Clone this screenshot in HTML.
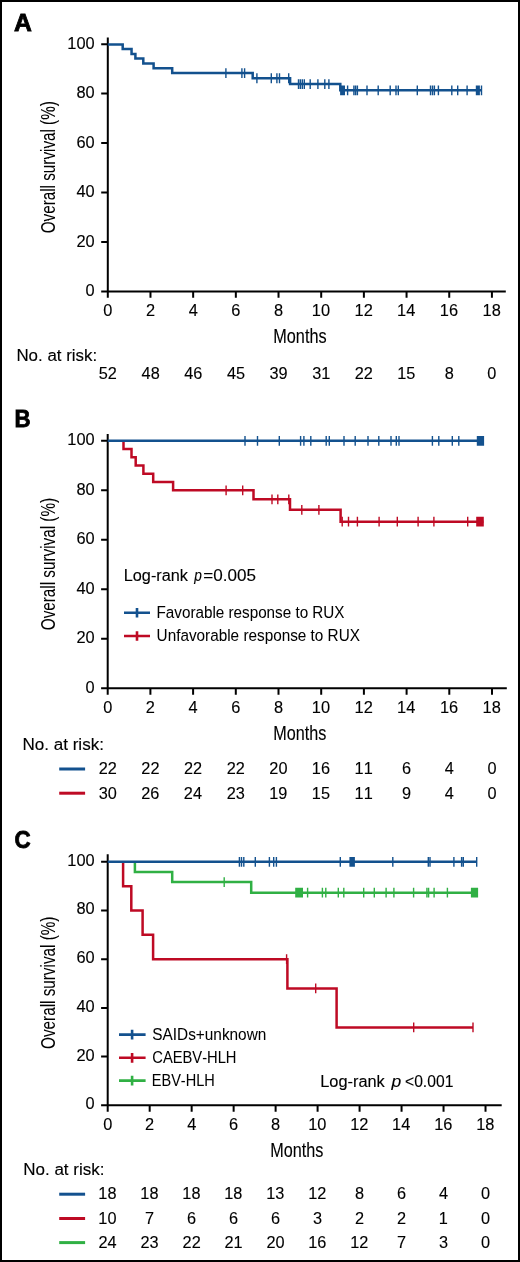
<!DOCTYPE html>
<html><head><meta charset="utf-8"><title>Overall survival</title>
<style>
html,body{margin:0;padding:0;background:#fff;}
body{width:520px;height:1262px;overflow:hidden;}
svg{display:block;will-change:transform;font-family:"Liberation Sans", sans-serif;font-kerning:none;}
text{font-kerning:none;stroke:#000;stroke-width:0.12px;}
</style></head><body>
<svg width="520" height="1262" viewBox="0 0 520 1262">
<rect x="1" y="1" width="518" height="1260" fill="#fff" stroke="#000" stroke-width="2"/>
<path d="M107.80 37.60 V297.80 M101.20 291.40 H505.80 M101.20 291.40 H107.80 M101.20 241.95 H107.80 M101.20 192.50 H107.80 M101.20 143.05 H107.80 M101.20 93.60 H107.80 M101.20 44.15 H107.80 M107.80 291.40 V297.80 M150.48 291.40 V297.80 M193.16 291.40 V297.80 M235.84 291.40 V297.80 M278.52 291.40 V297.80 M321.20 291.40 V297.80 M363.88 291.40 V297.80 M406.56 291.40 V297.80 M449.24 291.40 V297.80 M491.92 291.40 V297.80" fill="none" stroke="#000" stroke-width="2.00"/>
<text x="85.52" y="296.00" font-size="16.40" textLength="9.12" lengthAdjust="spacingAndGlyphs" fill="#000">0</text>
<text x="76.40" y="246.55" font-size="16.40" textLength="18.24" lengthAdjust="spacingAndGlyphs" fill="#000">20</text>
<text x="76.40" y="197.10" font-size="16.40" textLength="18.24" lengthAdjust="spacingAndGlyphs" fill="#000">40</text>
<text x="76.40" y="147.65" font-size="16.40" textLength="18.24" lengthAdjust="spacingAndGlyphs" fill="#000">60</text>
<text x="76.40" y="98.20" font-size="16.40" textLength="18.24" lengthAdjust="spacingAndGlyphs" fill="#000">80</text>
<text x="67.28" y="48.75" font-size="16.40" textLength="27.36" lengthAdjust="spacingAndGlyphs" fill="#000">100</text>
<text x="103.24" y="315.60" font-size="16.40" textLength="9.12" lengthAdjust="spacingAndGlyphs" fill="#000">0</text>
<text x="145.92" y="315.60" font-size="16.40" textLength="9.12" lengthAdjust="spacingAndGlyphs" fill="#000">2</text>
<text x="188.65" y="315.60" font-size="16.40" textLength="9.12" lengthAdjust="spacingAndGlyphs" fill="#000">4</text>
<text x="231.22" y="315.60" font-size="16.40" textLength="9.12" lengthAdjust="spacingAndGlyphs" fill="#000">6</text>
<text x="273.96" y="315.60" font-size="16.40" textLength="9.12" lengthAdjust="spacingAndGlyphs" fill="#000">8</text>
<text x="311.77" y="315.60" font-size="16.40" textLength="18.24" lengthAdjust="spacingAndGlyphs" fill="#000">10</text>
<text x="354.55" y="315.60" font-size="16.40" textLength="18.24" lengthAdjust="spacingAndGlyphs" fill="#000">12</text>
<text x="397.05" y="315.60" font-size="16.40" textLength="18.24" lengthAdjust="spacingAndGlyphs" fill="#000">14</text>
<text x="439.85" y="315.60" font-size="16.40" textLength="18.24" lengthAdjust="spacingAndGlyphs" fill="#000">16</text>
<text x="482.53" y="315.60" font-size="16.40" textLength="18.24" lengthAdjust="spacingAndGlyphs" fill="#000">18</text>
<g transform="rotate(-90)"><text x="-233.22" y="54.50" font-size="20.00" textLength="131.97" lengthAdjust="spacingAndGlyphs" fill="#000" style="stroke-width:0.04px">Overall survival (%)</text></g>
<text x="273.27" y="342.90" font-size="20.00" textLength="53.32" lengthAdjust="spacingAndGlyphs" fill="#000">Months</text>
<text x="14.08" y="30.60" font-size="23.34" font-weight="bold" textLength="17.87" lengthAdjust="spacingAndGlyphs" fill="#000" style="stroke-width:0.80px">A</text>
<path d="M107.80 44.45 H122.70 V49.10 H131.55 V53.90 H135.40 V58.60 H143.30 V63.40 H153.60 V68.20 H172.20 V73.10 H252.70 V78.25 H290.10 V84.10 H340.30 V90.35 H481.90" fill="none" stroke="#13518e" stroke-width="2.50" stroke-linejoin="miter" stroke-linecap="butt"/>
<path d="M225.90 68.20 V78.00M241.90 68.20 V78.00M244.60 68.20 V78.00M256.90 73.35 V83.15M271.30 73.35 V83.15M276.90 73.35 V83.15M279.50 73.35 V83.15M288.70 73.35 V83.15M298.50 79.20 V89.00M300.35 79.20 V89.00M302.30 79.20 V89.00M304.30 79.20 V89.00M310.20 79.20 V89.00M317.90 79.20 V89.00M324.80 79.20 V89.00M328.90 79.20 V89.00M340.80 85.45 V95.25M342.00 85.45 V95.25M343.20 85.45 V95.25M344.30 85.45 V95.25M347.60 85.45 V95.25M353.90 85.45 V95.25M355.60 85.45 V95.25M357.40 85.45 V95.25M367.00 85.45 V95.25M378.20 85.45 V95.25M390.20 85.45 V95.25M396.00 85.45 V95.25M398.30 85.45 V95.25M417.30 85.45 V95.25M430.50 85.45 V95.25M432.50 85.45 V95.25M434.40 85.45 V95.25M438.40 85.45 V95.25M451.80 85.45 V95.25M457.70 85.45 V95.25M467.10 85.45 V95.25M476.50 85.45 V95.25M477.90 85.45 V95.25M479.20 85.45 V95.25M481.50 85.45 V95.25" fill="none" stroke="#13518e" stroke-width="1.40"/>
<text x="16.41" y="360.90" font-size="16.00" textLength="80.73" lengthAdjust="spacingAndGlyphs" fill="#000">No. at risk:</text>
<text x="98.82" y="379.00" font-size="16.30" textLength="18.13" lengthAdjust="spacingAndGlyphs" fill="#000">52</text>
<text x="141.58" y="379.00" font-size="16.30" textLength="18.13" lengthAdjust="spacingAndGlyphs" fill="#000">48</text>
<text x="184.27" y="379.00" font-size="16.30" textLength="18.13" lengthAdjust="spacingAndGlyphs" fill="#000">46</text>
<text x="226.93" y="379.00" font-size="16.30" textLength="18.13" lengthAdjust="spacingAndGlyphs" fill="#000">45</text>
<text x="269.53" y="379.00" font-size="16.30" textLength="18.13" lengthAdjust="spacingAndGlyphs" fill="#000">39</text>
<text x="312.22" y="379.00" font-size="16.30" textLength="18.13" lengthAdjust="spacingAndGlyphs" fill="#000">31</text>
<text x="354.81" y="379.00" font-size="16.30" textLength="18.13" lengthAdjust="spacingAndGlyphs" fill="#000">22</text>
<text x="397.22" y="379.00" font-size="16.30" textLength="18.13" lengthAdjust="spacingAndGlyphs" fill="#000">15</text>
<text x="444.71" y="379.00" font-size="16.30" textLength="9.07" lengthAdjust="spacingAndGlyphs" fill="#000">8</text>
<text x="487.39" y="379.00" font-size="16.30" textLength="9.07" lengthAdjust="spacingAndGlyphs" fill="#000">0</text>
<path d="M107.70 433.90 V694.70 M101.10 688.30 H506.80 M101.10 688.30 H107.70 M101.10 638.80 H107.70 M101.10 589.30 H107.70 M101.10 539.80 H107.70 M101.10 490.30 H107.70 M101.10 440.80 H107.70 M107.70 688.30 V694.70 M150.40 688.30 V694.70 M193.10 688.30 V694.70 M235.80 688.30 V694.70 M278.50 688.30 V694.70 M321.20 688.30 V694.70 M363.90 688.30 V694.70 M406.60 688.30 V694.70 M449.30 688.30 V694.70 M492.00 688.30 V694.70" fill="none" stroke="#000" stroke-width="2.00"/>
<text x="85.52" y="692.90" font-size="16.40" textLength="9.12" lengthAdjust="spacingAndGlyphs" fill="#000">0</text>
<text x="76.40" y="643.40" font-size="16.40" textLength="18.24" lengthAdjust="spacingAndGlyphs" fill="#000">20</text>
<text x="76.40" y="593.90" font-size="16.40" textLength="18.24" lengthAdjust="spacingAndGlyphs" fill="#000">40</text>
<text x="76.40" y="544.40" font-size="16.40" textLength="18.24" lengthAdjust="spacingAndGlyphs" fill="#000">60</text>
<text x="76.40" y="494.90" font-size="16.40" textLength="18.24" lengthAdjust="spacingAndGlyphs" fill="#000">80</text>
<text x="67.28" y="445.40" font-size="16.40" textLength="27.36" lengthAdjust="spacingAndGlyphs" fill="#000">100</text>
<text x="103.14" y="712.60" font-size="16.40" textLength="9.12" lengthAdjust="spacingAndGlyphs" fill="#000">0</text>
<text x="145.84" y="712.60" font-size="16.40" textLength="9.12" lengthAdjust="spacingAndGlyphs" fill="#000">2</text>
<text x="188.59" y="712.60" font-size="16.40" textLength="9.12" lengthAdjust="spacingAndGlyphs" fill="#000">4</text>
<text x="231.18" y="712.60" font-size="16.40" textLength="9.12" lengthAdjust="spacingAndGlyphs" fill="#000">6</text>
<text x="273.94" y="712.60" font-size="16.40" textLength="9.12" lengthAdjust="spacingAndGlyphs" fill="#000">8</text>
<text x="311.77" y="712.60" font-size="16.40" textLength="18.24" lengthAdjust="spacingAndGlyphs" fill="#000">10</text>
<text x="354.57" y="712.60" font-size="16.40" textLength="18.24" lengthAdjust="spacingAndGlyphs" fill="#000">12</text>
<text x="397.09" y="712.60" font-size="16.40" textLength="18.24" lengthAdjust="spacingAndGlyphs" fill="#000">14</text>
<text x="439.91" y="712.60" font-size="16.40" textLength="18.24" lengthAdjust="spacingAndGlyphs" fill="#000">16</text>
<text x="482.61" y="712.60" font-size="16.40" textLength="18.24" lengthAdjust="spacingAndGlyphs" fill="#000">18</text>
<g transform="rotate(-90)"><text x="-630.22" y="54.50" font-size="20.00" textLength="132.27" lengthAdjust="spacingAndGlyphs" fill="#000" style="stroke-width:0.04px">Overall survival (%)</text></g>
<text x="273.37" y="739.60" font-size="20.00" textLength="53.01" lengthAdjust="spacingAndGlyphs" fill="#000">Months</text>
<text x="14.51" y="427.20" font-size="23.34" font-weight="bold" textLength="16.10" lengthAdjust="spacingAndGlyphs" fill="#000" style="stroke-width:0.80px">B</text>
<path d="M123.50 440.80 H123.50 V449.05 H131.50 V457.30 H135.70 V465.55 H143.40 V473.80 H153.20 V482.05 H173.10 V490.30 H253.50 V499.30 H290.00 V509.80 H340.60 V521.70 H483.40" fill="none" stroke="#be0a24" stroke-width="2.50" stroke-linejoin="miter" stroke-linecap="butt"/>
<path d="M226.10 485.40 V495.20M242.70 485.40 V495.20M272.00 494.40 V504.20M277.80 494.40 V504.20M288.80 494.40 V504.20M301.80 504.90 V514.70M318.90 504.90 V514.70M342.20 516.80 V526.60M348.50 516.80 V526.60M357.40 516.80 V526.60M379.10 516.80 V526.60M397.30 516.80 V526.60M418.10 516.80 V526.60M433.90 516.80 V526.60M467.70 516.80 V526.60M476.90 516.80 V526.60M478.20 516.80 V526.60M479.50 516.80 V526.60M480.80 516.80 V526.60M482.10 516.80 V526.60M483.10 516.80 V526.60" fill="none" stroke="#be0a24" stroke-width="1.40"/>
<path d="M107.70 440.80 H483.40" fill="none" stroke="#13518e" stroke-width="2.50" stroke-linejoin="miter" stroke-linecap="butt"/>
<path d="M245.00 435.90 V445.70M257.50 435.90 V445.70M279.30 435.90 V445.70M300.60 435.90 V445.70M303.90 435.90 V445.70M310.80 435.90 V445.70M326.20 435.90 V445.70M329.30 435.90 V445.70M344.00 435.90 V445.70M355.20 435.90 V445.70M368.00 435.90 V445.70M378.80 435.90 V445.70M391.00 435.90 V445.70M396.30 435.90 V445.70M399.00 435.90 V445.70M432.40 435.90 V445.70M438.80 435.90 V445.70M452.30 435.90 V445.70M458.80 435.90 V445.70M477.50 435.90 V445.70M478.80 435.90 V445.70M480.10 435.90 V445.70M481.40 435.90 V445.70M482.70 435.90 V445.70M483.40 435.90 V445.70" fill="none" stroke="#13518e" stroke-width="1.40"/>
<text x="123.77" y="580.90" font-size="16.00" textLength="64.21" lengthAdjust="spacingAndGlyphs" fill="#000">Log-rank</text>
<text x="194.34" y="580.90" font-size="16.00" font-style="italic" textLength="7.60" lengthAdjust="spacingAndGlyphs" fill="#000">p</text>
<text x="203.37" y="580.90" font-size="16.00" textLength="52.65" lengthAdjust="spacingAndGlyphs" fill="#000">=0.005</text>
<path d="M124 612.7 H150 M137 607.9 V617.5" stroke="#13518e" stroke-width="2.6" fill="none"/>
<path d="M124 636 H150 M137 631.2 V640.8" stroke="#be0a24" stroke-width="2.6" fill="none"/>
<text x="156.55" y="618.10" font-size="15.90" textLength="187.97" lengthAdjust="spacingAndGlyphs" fill="#000" style="stroke-width:0.04px">Favorable response to RUX</text>
<text x="156.62" y="641.00" font-size="15.90" textLength="203.30" lengthAdjust="spacingAndGlyphs" fill="#000" style="stroke-width:0.04px">Unfavorable response to RUX</text>
<text x="22.40" y="749.60" font-size="16.00" textLength="81.56" lengthAdjust="spacingAndGlyphs" fill="#000">No. at risk:</text>
<path d="M59.2 769.00 H85.1" stroke="#13518e" stroke-width="3"/>
<text x="98.63" y="774.40" font-size="16.30" textLength="18.13" lengthAdjust="spacingAndGlyphs" fill="#000">22</text>
<text x="141.33" y="774.40" font-size="16.30" textLength="18.13" lengthAdjust="spacingAndGlyphs" fill="#000">22</text>
<text x="184.03" y="774.40" font-size="16.30" textLength="18.13" lengthAdjust="spacingAndGlyphs" fill="#000">22</text>
<text x="226.73" y="774.40" font-size="16.30" textLength="18.13" lengthAdjust="spacingAndGlyphs" fill="#000">22</text>
<text x="269.34" y="774.40" font-size="16.30" textLength="18.13" lengthAdjust="spacingAndGlyphs" fill="#000">20</text>
<text x="311.87" y="774.40" font-size="16.30" textLength="18.13" lengthAdjust="spacingAndGlyphs" fill="#000">16</text>
<text x="354.61" y="774.40" font-size="16.30" textLength="18.13" lengthAdjust="spacingAndGlyphs" fill="#000">11</text>
<text x="402.01" y="774.40" font-size="16.30" textLength="9.07" lengthAdjust="spacingAndGlyphs" fill="#000">6</text>
<text x="444.82" y="774.40" font-size="16.30" textLength="9.07" lengthAdjust="spacingAndGlyphs" fill="#000">4</text>
<text x="487.47" y="774.40" font-size="16.30" textLength="9.07" lengthAdjust="spacingAndGlyphs" fill="#000">0</text>
<path d="M59.2 793.20 H85.1" stroke="#be0a24" stroke-width="3"/>
<text x="98.64" y="798.60" font-size="16.30" textLength="18.13" lengthAdjust="spacingAndGlyphs" fill="#000">30</text>
<text x="141.28" y="798.60" font-size="16.30" textLength="18.13" lengthAdjust="spacingAndGlyphs" fill="#000">26</text>
<text x="183.86" y="798.60" font-size="16.30" textLength="18.13" lengthAdjust="spacingAndGlyphs" fill="#000">24</text>
<text x="226.68" y="798.60" font-size="16.30" textLength="18.13" lengthAdjust="spacingAndGlyphs" fill="#000">23</text>
<text x="269.20" y="798.60" font-size="16.30" textLength="18.13" lengthAdjust="spacingAndGlyphs" fill="#000">19</text>
<text x="311.86" y="798.60" font-size="16.30" textLength="18.13" lengthAdjust="spacingAndGlyphs" fill="#000">15</text>
<text x="354.61" y="798.60" font-size="16.30" textLength="18.13" lengthAdjust="spacingAndGlyphs" fill="#000">11</text>
<text x="402.07" y="798.60" font-size="16.30" textLength="9.07" lengthAdjust="spacingAndGlyphs" fill="#000">9</text>
<text x="444.82" y="798.60" font-size="16.30" textLength="9.07" lengthAdjust="spacingAndGlyphs" fill="#000">4</text>
<text x="487.47" y="798.60" font-size="16.30" textLength="9.07" lengthAdjust="spacingAndGlyphs" fill="#000">0</text>
<path d="M107.70 854.20 V1111.80 M101.10 1105.30 H501.70 M101.10 1105.30 H107.70 M101.10 1056.60 H107.70 M101.10 1007.90 H107.70 M101.10 959.20 H107.70 M101.10 910.50 H107.70 M101.10 861.80 H107.70 M107.70 1105.30 V1111.80 M149.68 1105.30 V1111.80 M191.66 1105.30 V1111.80 M233.64 1105.30 V1111.80 M275.62 1105.30 V1111.80 M317.60 1105.30 V1111.80 M359.58 1105.30 V1111.80 M401.56 1105.30 V1111.80 M443.54 1105.30 V1111.80 M485.52 1105.30 V1111.80" fill="none" stroke="#000" stroke-width="2.00"/>
<text x="85.52" y="1109.20" font-size="16.40" textLength="9.12" lengthAdjust="spacingAndGlyphs" fill="#000">0</text>
<text x="76.40" y="1060.50" font-size="16.40" textLength="18.24" lengthAdjust="spacingAndGlyphs" fill="#000">20</text>
<text x="76.40" y="1011.80" font-size="16.40" textLength="18.24" lengthAdjust="spacingAndGlyphs" fill="#000">40</text>
<text x="76.40" y="963.10" font-size="16.40" textLength="18.24" lengthAdjust="spacingAndGlyphs" fill="#000">60</text>
<text x="76.40" y="914.40" font-size="16.40" textLength="18.24" lengthAdjust="spacingAndGlyphs" fill="#000">80</text>
<text x="67.28" y="865.70" font-size="16.40" textLength="27.36" lengthAdjust="spacingAndGlyphs" fill="#000">100</text>
<text x="103.14" y="1129.50" font-size="16.40" textLength="9.12" lengthAdjust="spacingAndGlyphs" fill="#000">0</text>
<text x="145.12" y="1129.50" font-size="16.40" textLength="9.12" lengthAdjust="spacingAndGlyphs" fill="#000">2</text>
<text x="187.15" y="1129.50" font-size="16.40" textLength="9.12" lengthAdjust="spacingAndGlyphs" fill="#000">4</text>
<text x="229.02" y="1129.50" font-size="16.40" textLength="9.12" lengthAdjust="spacingAndGlyphs" fill="#000">6</text>
<text x="271.06" y="1129.50" font-size="16.40" textLength="9.12" lengthAdjust="spacingAndGlyphs" fill="#000">8</text>
<text x="308.17" y="1129.50" font-size="16.40" textLength="18.24" lengthAdjust="spacingAndGlyphs" fill="#000">10</text>
<text x="350.25" y="1129.50" font-size="16.40" textLength="18.24" lengthAdjust="spacingAndGlyphs" fill="#000">12</text>
<text x="392.05" y="1129.50" font-size="16.40" textLength="18.24" lengthAdjust="spacingAndGlyphs" fill="#000">14</text>
<text x="434.15" y="1129.50" font-size="16.40" textLength="18.24" lengthAdjust="spacingAndGlyphs" fill="#000">16</text>
<text x="476.13" y="1129.50" font-size="16.40" textLength="18.24" lengthAdjust="spacingAndGlyphs" fill="#000">18</text>
<g transform="rotate(-90)"><text x="-1048.92" y="54.50" font-size="20.00" textLength="132.27" lengthAdjust="spacingAndGlyphs" fill="#000" style="stroke-width:0.04px">Overall survival (%)</text></g>
<text x="270.17" y="1156.50" font-size="20.00" textLength="53.11" lengthAdjust="spacingAndGlyphs" fill="#000">Months</text>
<text x="14.58" y="847.60" font-size="23.34" font-weight="bold" textLength="16.13" lengthAdjust="spacingAndGlyphs" fill="#000" style="stroke-width:0.80px">C</text>
<path d="M134.90 861.80 H134.90 V871.95 H172.20 V882.09 H251.20 V892.72 H477.50" fill="none" stroke="#30b044" stroke-width="2.50" stroke-linejoin="miter" stroke-linecap="butt"/>
<path d="M224.20 877.19 V886.99M295.90 887.82 V897.62M297.20 887.82 V897.62M298.50 887.82 V897.62M299.80 887.82 V897.62M301.10 887.82 V897.62M302.30 887.82 V897.62M307.60 887.82 V897.62M322.40 887.82 V897.62M325.80 887.82 V897.62M338.30 887.82 V897.62M343.80 887.82 V897.62M363.70 887.82 V897.62M374.30 887.82 V897.62M386.10 887.82 V897.62M393.90 887.82 V897.62M413.60 887.82 V897.62M426.90 887.82 V897.62M428.60 887.82 V897.62M434.10 887.82 V897.62M447.40 887.82 V897.62M471.60 887.82 V897.62M472.90 887.82 V897.62M474.20 887.82 V897.62M475.50 887.82 V897.62M476.80 887.82 V897.62M477.40 887.82 V897.62" fill="none" stroke="#30b044" stroke-width="1.40"/>
<path d="M123.10 861.80 H123.10 V886.15 H131.30 V910.50 H142.60 V934.85 H153.10 V959.20 H287.40 V988.42 H336.60 V1027.38 H473.00" fill="none" stroke="#be0a24" stroke-width="2.50" stroke-linejoin="miter" stroke-linecap="butt"/>
<path d="M286.60 954.30 V964.10M315.70 983.52 V993.32M413.70 1022.48 V1032.28M473.00 1022.48 V1032.28" fill="none" stroke="#be0a24" stroke-width="1.40"/>
<path d="M107.70 861.80 H476.70" fill="none" stroke="#13518e" stroke-width="2.50" stroke-linejoin="miter" stroke-linecap="butt"/>
<path d="M239.40 856.90 V866.70M241.50 856.90 V866.70M243.80 856.90 V866.70M255.30 856.90 V866.70M269.40 856.90 V866.70M273.70 856.90 V866.70M276.40 856.90 V866.70M340.30 856.90 V866.70M350.10 856.90 V866.70M351.50 856.90 V866.70M352.90 856.90 V866.70M354.20 856.90 V866.70M392.80 856.90 V866.70M428.30 856.90 V866.70M430.00 856.90 V866.70M453.90 856.90 V866.70M461.60 856.90 V866.70M463.30 856.90 V866.70M476.70 856.90 V866.70" fill="none" stroke="#13518e" stroke-width="1.40"/>
<path d="M119 1034.6 H145.6 M132.1 1029.8 V1039.6" stroke="#13518e" stroke-width="2.6" fill="none"/>
<path d="M119 1057.7 H145.6 M132.1 1052.9 V1062.7" stroke="#be0a24" stroke-width="2.6" fill="none"/>
<path d="M119 1080.6 H145.6 M132.1 1075.8 V1085.6" stroke="#30b044" stroke-width="2.6" fill="none"/>
<text x="152.30" y="1040.00" font-size="15.90" textLength="114.00" lengthAdjust="spacingAndGlyphs" fill="#000" style="stroke-width:0.04px">SAIDs+unknown</text>
<text x="152.25" y="1063.10" font-size="15.90" textLength="84.25" lengthAdjust="spacingAndGlyphs" fill="#000" style="stroke-width:0.04px">CAEBV-HLH</text>
<text x="151.81" y="1085.80" font-size="15.90" textLength="62.98" lengthAdjust="spacingAndGlyphs" fill="#000" style="stroke-width:0.04px">EBV-HLH</text>
<text x="320.26" y="1087.20" font-size="16.00" textLength="64.52" lengthAdjust="spacingAndGlyphs" fill="#000">Log-rank</text>
<text x="391.44" y="1087.20" font-size="16.00" font-style="italic" textLength="9.73" lengthAdjust="spacingAndGlyphs" fill="#000">p</text>
<text x="405.03" y="1087.20" font-size="16.00" textLength="48.34" lengthAdjust="spacingAndGlyphs" fill="#000">&lt;0.001</text>
<text x="23.21" y="1174.60" font-size="16.00" textLength="81.25" lengthAdjust="spacingAndGlyphs" fill="#000">No. at risk:</text>
<path d="M59.2 1194.20 H85.1" stroke="#13518e" stroke-width="3"/>
<text x="98.37" y="1199.20" font-size="16.30" textLength="18.13" lengthAdjust="spacingAndGlyphs" fill="#000">18</text>
<text x="140.35" y="1199.20" font-size="16.30" textLength="18.13" lengthAdjust="spacingAndGlyphs" fill="#000">18</text>
<text x="182.33" y="1199.20" font-size="16.30" textLength="18.13" lengthAdjust="spacingAndGlyphs" fill="#000">18</text>
<text x="224.31" y="1199.20" font-size="16.30" textLength="18.13" lengthAdjust="spacingAndGlyphs" fill="#000">18</text>
<text x="266.29" y="1199.20" font-size="16.30" textLength="18.13" lengthAdjust="spacingAndGlyphs" fill="#000">13</text>
<text x="308.32" y="1199.20" font-size="16.30" textLength="18.13" lengthAdjust="spacingAndGlyphs" fill="#000">12</text>
<text x="355.05" y="1199.20" font-size="16.30" textLength="9.07" lengthAdjust="spacingAndGlyphs" fill="#000">8</text>
<text x="396.97" y="1199.20" font-size="16.30" textLength="9.07" lengthAdjust="spacingAndGlyphs" fill="#000">6</text>
<text x="439.06" y="1199.20" font-size="16.30" textLength="9.07" lengthAdjust="spacingAndGlyphs" fill="#000">4</text>
<text x="480.99" y="1199.20" font-size="16.30" textLength="9.07" lengthAdjust="spacingAndGlyphs" fill="#000">0</text>
<path d="M59.2 1218.50 H85.1" stroke="#be0a24" stroke-width="3"/>
<text x="98.33" y="1223.50" font-size="16.30" textLength="18.13" lengthAdjust="spacingAndGlyphs" fill="#000">10</text>
<text x="145.14" y="1223.50" font-size="16.30" textLength="9.07" lengthAdjust="spacingAndGlyphs" fill="#000">7</text>
<text x="187.07" y="1223.50" font-size="16.30" textLength="9.07" lengthAdjust="spacingAndGlyphs" fill="#000">6</text>
<text x="229.05" y="1223.50" font-size="16.30" textLength="9.07" lengthAdjust="spacingAndGlyphs" fill="#000">6</text>
<text x="271.03" y="1223.50" font-size="16.30" textLength="9.07" lengthAdjust="spacingAndGlyphs" fill="#000">6</text>
<text x="313.12" y="1223.50" font-size="16.30" textLength="9.07" lengthAdjust="spacingAndGlyphs" fill="#000">3</text>
<text x="355.05" y="1223.50" font-size="16.30" textLength="9.07" lengthAdjust="spacingAndGlyphs" fill="#000">2</text>
<text x="397.03" y="1223.50" font-size="16.30" textLength="9.07" lengthAdjust="spacingAndGlyphs" fill="#000">2</text>
<text x="438.78" y="1223.50" font-size="16.30" textLength="9.07" lengthAdjust="spacingAndGlyphs" fill="#000">1</text>
<text x="480.99" y="1223.50" font-size="16.30" textLength="9.07" lengthAdjust="spacingAndGlyphs" fill="#000">0</text>
<path d="M59.2 1242.60 H85.1" stroke="#30b044" stroke-width="3"/>
<text x="98.46" y="1247.60" font-size="16.30" textLength="18.13" lengthAdjust="spacingAndGlyphs" fill="#000">24</text>
<text x="140.56" y="1247.60" font-size="16.30" textLength="18.13" lengthAdjust="spacingAndGlyphs" fill="#000">23</text>
<text x="182.59" y="1247.60" font-size="16.30" textLength="18.13" lengthAdjust="spacingAndGlyphs" fill="#000">22</text>
<text x="224.56" y="1247.60" font-size="16.30" textLength="18.13" lengthAdjust="spacingAndGlyphs" fill="#000">21</text>
<text x="266.46" y="1247.60" font-size="16.30" textLength="18.13" lengthAdjust="spacingAndGlyphs" fill="#000">20</text>
<text x="308.27" y="1247.60" font-size="16.30" textLength="18.13" lengthAdjust="spacingAndGlyphs" fill="#000">16</text>
<text x="350.30" y="1247.60" font-size="16.30" textLength="18.13" lengthAdjust="spacingAndGlyphs" fill="#000">12</text>
<text x="397.02" y="1247.60" font-size="16.30" textLength="9.07" lengthAdjust="spacingAndGlyphs" fill="#000">7</text>
<text x="439.06" y="1247.60" font-size="16.30" textLength="9.07" lengthAdjust="spacingAndGlyphs" fill="#000">3</text>
<text x="480.99" y="1247.60" font-size="16.30" textLength="9.07" lengthAdjust="spacingAndGlyphs" fill="#000">0</text>
</svg>
</body></html>
